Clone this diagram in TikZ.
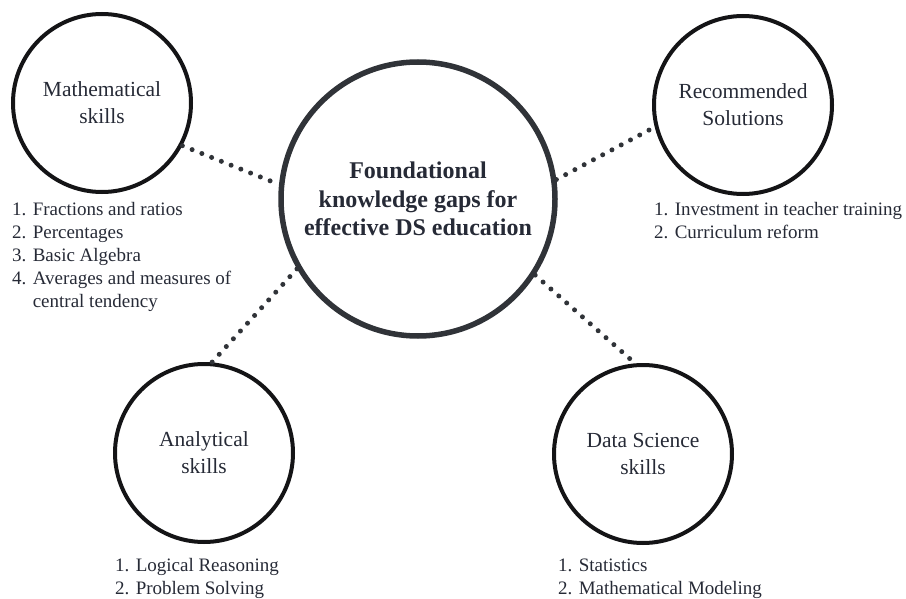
\documentclass[tikz,border=0pt]{standalone}
\usepackage{fontspec}
\setmainfont{Liberation Serif}
\usepackage{tikz}
\usetikzlibrary{positioning}
\definecolor{ink}{RGB}{38,42,54}
\definecolor{rim}{RGB}{20,20,22}
\definecolor{hubrim}{RGB}{48,51,56}

\tikzset{
  skill/.style={circle,draw=rim,line width=4pt,minimum size=178pt,inner sep=0pt,
    align=center,text=ink,font=\fontsize{21.5}{27}\selectfont},
  hub/.style={circle,draw=hubrim,line width=5.5pt,minimum size=274pt,inner sep=0pt,
    align=center,text=ink,font=\fontsize{24}{28.5}\selectfont\bfseries},
  items/.style={anchor=north west,inner sep=0pt,align=left,text=ink,
    font=\fontsize{19}{23}\selectfont},
  dotline/.style={hubrim,line width=5pt,line cap=round,dash pattern=on 0pt off 10.5pt}
}

\begin{document}
\begin{tikzpicture}[x=1pt,y=-1pt]
    \useasboundingbox (0,0) rectangle (906,599);
    % circles
    \node[hub] (hub) at (418,199) {Foundational\\knowledge gaps for\\effective DS education};
    \node[skill] (math) at (102,103) {Mathematical\\skills};
    \node[skill] (rec) at (743,105) {Recommended\\Solutions};
    \node[skill] (ana) at (204,453) {Analytical\\skills};
    \node[skill] (ds) at (643,454) {Data Science\\skills};
    % dotted links to the hub
    \draw[dotline] (math.-28) -- (hub.174);
    \draw[dotline] (hub.8) -- (rec.194);
    \draw[dotline] (hub.210) -- (ana.85);
    \draw[dotline] (hub.-33) -- (ds.95);
    % item lists (top edge = first baseline minus ~13pt)
    \node[items] (mathlist) at (12,202) {1. Fractions and ratios\\2. Percentages\\3. Basic Algebra\\
      4. Averages and measures of\\\hphantom{4. }central tendency};
    \node[items] (reclist) at (654,202) {1. Investment in teacher training\\2. Curriculum reform};
    \node[items] (analist) at (115,558) {1. Logical Reasoning\\2. Problem Solving};
    \node[items] (dslist) at (558,559) {1. Statistics\\2. Mathematical Modeling};
  \end{tikzpicture}
\end{document}
